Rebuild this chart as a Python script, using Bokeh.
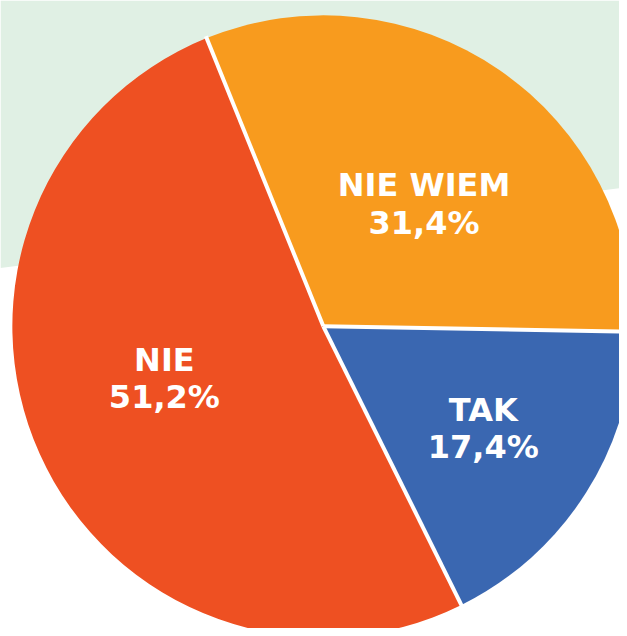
from bokeh.plotting import figure
from bokeh.models import Range1d, ColumnDataSource
from bokeh.core.properties import value
from bokeh.embed import file_html
from bokeh.resources import INLINE
import math

# ---- data ----
categories = ["TAK", "NIE", "NIE WIEM"]
shares = [17.4, 51.2, 31.4]
colors = ["#3A67B1", "#EE5022", "#F89B1E"]
pct_labels = ["17,4%", "51,2%", "31,4%"]

# ---- layout (reference pixel coordinates, y measured from the top) ----
W, H = 627, 636
cx, cy, R = 327, 330, 315
start_deg = -1.0   # TAK starts here and slices go clockwise

def Y(py):
    return H - py

p = figure(width=W - 8, height=H - 8, output_backend="svg", toolbar_location=None,
           x_range=Range1d(0, W), y_range=Range1d(0, H), min_border=0)
p.axis.visible = False
p.grid.visible = False
p.outline_line_color = None
p.background_fill_color = "white"
p.border_fill_color = "white"

# light green background band
p.patch([0, W, W, 0], [Y(0), Y(0), Y(190), Y(271)], color="#E0F0E4", line_color=None)

# wedges: clockwise from start_deg
ends = []
starts = []
a = start_deg
for s in shares:
    sweep = s / 100 * 360
    ends.append(math.radians(a))
    starts.append(math.radians(a - sweep))
    a -= sweep

src = ColumnDataSource(dict(start=starts, end=ends, color=colors))
p.wedge(x=cx, y=Y(cy), radius=R, start_angle="start", end_angle="end",
        direction="anticlock", fill_color="color", line_color=None, source=src)

# white separators between slices
sep_x1 = [cx + (R + 2) * math.cos(e) for e in ends]
sep_y1 = [Y(cy) + (R + 2) * math.sin(e) for e in ends]
p.segment(x0=[cx] * len(ends), y0=[Y(cy)] * len(ends), x1=sep_x1, y1=sep_y1,
          line_color="white", line_width=4)

# labels (positions in reference pixel coords, baselines)
label_x = [489, 166, 429]
name_y = [415, 364, 187]
pct_y = [452, 402, 225]

p.text(x=label_x, y=[Y(v) for v in name_y], text=categories,
       text_font=value("DejaVu Sans"), text_font_style="bold",
       text_font_size="32px", text_color="white",
       text_align="center", text_baseline="alphabetic")
p.text(x=label_x, y=[Y(v) for v in pct_y], text=pct_labels,
       text_font=value("DejaVu Sans"), text_font_style="bold",
       text_font_size="32px", text_color="white",
       text_align="center", text_baseline="alphabetic")

open("out.html", "w").write(file_html(p, INLINE))
